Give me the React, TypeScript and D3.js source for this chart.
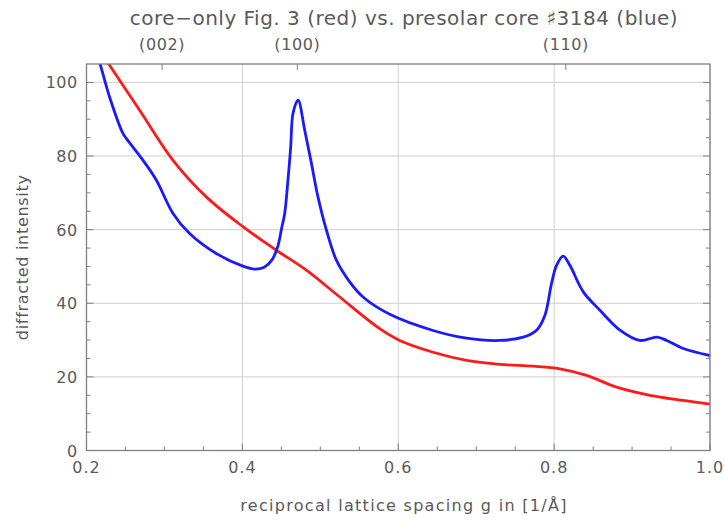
import React from "react";
import * as d3 from "d3";

// red: core-only Fig. 3
const redG = [0.222, 0.2285, 0.268, 0.3108, 0.3537, 0.4007, 0.4436, 0.4821, 0.5249, 0.5762, 0.6019, 0.6447, 0.6876, 0.7303, 0.7731, 0.8074, 0.8417, 0.8802, 0.9229, 0.9657, 1.0];
const redI = [107, 105, 92.5, 78.9, 68.9, 60.8, 54.4, 49, 41.7, 33.1, 29.9, 26.7, 24.5, 23.4, 22.9, 22.2, 20.4, 17.2, 15, 13.6, 12.6];

// blue: presolar core #3184
const blueG = [0.213, 0.2175, 0.2295, 0.2466, 0.251, 0.2723, 0.2895, 0.311, 0.332, 0.3665, 0.4007, 0.4157, 0.428, 0.438, 0.4455, 0.4505, 0.4543, 0.4585, 0.462, 0.465, 0.4714, 0.48, 0.4886, 0.497, 0.5078, 0.5206, 0.5377, 0.5548, 0.5891, 0.6447, 0.6876, 0.7303, 0.7603, 0.7775, 0.7881, 0.7967, 0.8031, 0.8117, 0.8202, 0.8374, 0.8588, 0.8845, 0.9101, 0.9316, 0.9444, 0.9657, 1.0];
const blueI = [108, 105, 96.1, 86.2, 84.8, 78.9, 73.5, 64.4, 59, 53.5, 50.1, 49.3, 49.8, 51.8, 55.5, 60.5, 64.4, 73.5, 82.5, 91.6, 95.2, 87, 78, 68.9, 59.9, 51.7, 45.8, 41.7, 37.0, 32.6, 30.5, 29.9, 30.8, 32.7, 36.7, 45.4, 50.3, 52.8, 50.3, 43.1, 38.1, 32.7, 29.9, 30.8, 29.9, 27.7, 25.8];

const xTicks = [0.2, 0.4, 0.6, 0.8, 1.0];
const yTicks = [0, 20, 40, 60, 80, 100];
const peakLabels = ["(002)", "(100)", "(110)"];
const peakG = [0.297, 0.4705, 0.815];

const W = 725;
const H = 523;
const L = 86.5;
const R = 710;
const T = 64;
const B = 450.5;

const font = "'DejaVu Sans', sans-serif";
const textColor = "#5a5a5a";
const frameColor = "#808080";
const gridColor = "#cfcfcf";

export default function App() {
  const x = d3.scaleLinear().domain([0.2, 1.0]).range([L, R]);
  const y = d3.scaleLinear().domain([0, 105]).range([B, T]);

  const line = d3
    .line<[number, number]>()
    .x((d) => x(d[0]))
    .y((d) => y(d[1]))
    .curve(d3.curveCatmullRom.alpha(0.5));

  const red = redG.map((g, i) => [g, redI[i]] as [number, number]);
  const blue = blueG.map((g, i) => [g, blueI[i]] as [number, number]);

  // minor ticks every 0.05 / 5 units, skipping the majors
  const xMinor = d3.range(1, 16).map((k) => 0.2 + k * 0.05).filter((_, k) => (k + 1) % 4 !== 0);
  const yMinor = d3.range(5, 105, 5).filter((v) => v % 20 !== 0);

  return (
    <svg width={W} height={H} style={{ position: "absolute", left: 0, top: 0, background: "#fff" }}>
      <defs>
        <clipPath id="plot">
          <rect x={L} y={T} width={R - L} height={B - T} />
        </clipPath>
      </defs>

      {/* grid */}
      {xTicks.map((t) => (
        <line key={"gx" + t} x1={x(t)} x2={x(t)} y1={T} y2={B} stroke={gridColor} strokeWidth={1} />
      ))}
      {yTicks.map((t) => (
        <line key={"gy" + t} x1={L} x2={R} y1={y(t)} y2={y(t)} stroke={gridColor} strokeWidth={1} />
      ))}

      {/* curves */}
      <g clipPath="url(#plot)">
        <path d={line(red) ?? ""} fill="none" stroke="#ff1a1a" strokeWidth={2.8} strokeLinejoin="round" />
        <path d={line(blue) ?? ""} fill="none" stroke="#1a1aff" strokeWidth={2.8} strokeLinejoin="round" />
      </g>

      {/* frame */}
      <rect x={L} y={T} width={R - L} height={B - T} fill="none" stroke={frameColor} strokeWidth={1.3} />

      {/* bottom ticks */}
      {xTicks.map((t) => (
        <line key={"bx" + t} x1={x(t)} x2={x(t)} y1={B} y2={B - 7} stroke={frameColor} />
      ))}
      {xMinor.map((t) => (
        <line key={"bm" + t} x1={x(t)} x2={x(t)} y1={B} y2={B - 4} stroke={frameColor} />
      ))}
      {/* left & right ticks */}
      {yTicks.map((t) => (
        <g key={"ly" + t}>
          <line x1={L} x2={L + 7} y1={y(t)} y2={y(t)} stroke={frameColor} />
          <line x1={R} x2={R - 7} y1={y(t)} y2={y(t)} stroke={frameColor} />
        </g>
      ))}
      {yMinor.map((t) => (
        <g key={"lm" + t}>
          <line x1={L} x2={L + 4} y1={y(t)} y2={y(t)} stroke={frameColor} />
          <line x1={R} x2={R - 4} y1={y(t)} y2={y(t)} stroke={frameColor} />
        </g>
      ))}
      {/* top peak ticks */}
      {peakG.map((g, i) => (
        <g key={"pk" + i}>
          <line x1={x(g)} x2={x(g)} y1={T} y2={T + 6} stroke={frameColor} />
          <text x={x(g)} y={50} textAnchor="middle" fontFamily={font} fontSize={16} letterSpacing={0.6} fill={textColor}>
            {peakLabels[i]}
          </text>
        </g>
      ))}

      {/* tick labels */}
      {xTicks.map((t) => (
        <text key={"xl" + t} x={x(t)} y={473} textAnchor="middle" fontFamily={font} fontSize={16} letterSpacing={1} fill={textColor}>
          {d3.format(".1f")(t)}
        </text>
      ))}
      {yTicks.map((t) => (
        <text key={"yl" + t} x={L - 9} y={y(t) + 6} textAnchor="end" fontFamily={font} fontSize={16} letterSpacing={0.4} fill={textColor}>
          {t}
        </text>
      ))}

      {/* titles */}
      <text x={404} y={25} textAnchor="middle" fontFamily={font} fontSize={20} letterSpacing={0.5} fill={textColor}>
        core−only Fig. 3 (red) vs. presolar core ♯3184 (blue)
      </text>
      <text x={404} y={511} textAnchor="middle" fontFamily={font} fontSize={16} letterSpacing={1.3} fill={textColor}>
        reciprocal lattice spacing g in [1/Å]
      </text>
      <text transform={`translate(28,${(T + B) / 2}) rotate(-90)`} textAnchor="middle" fontFamily={font} fontSize={16} letterSpacing={0.7} fill={textColor}>
        diffracted intensity
      </text>
    </svg>
  );
}
